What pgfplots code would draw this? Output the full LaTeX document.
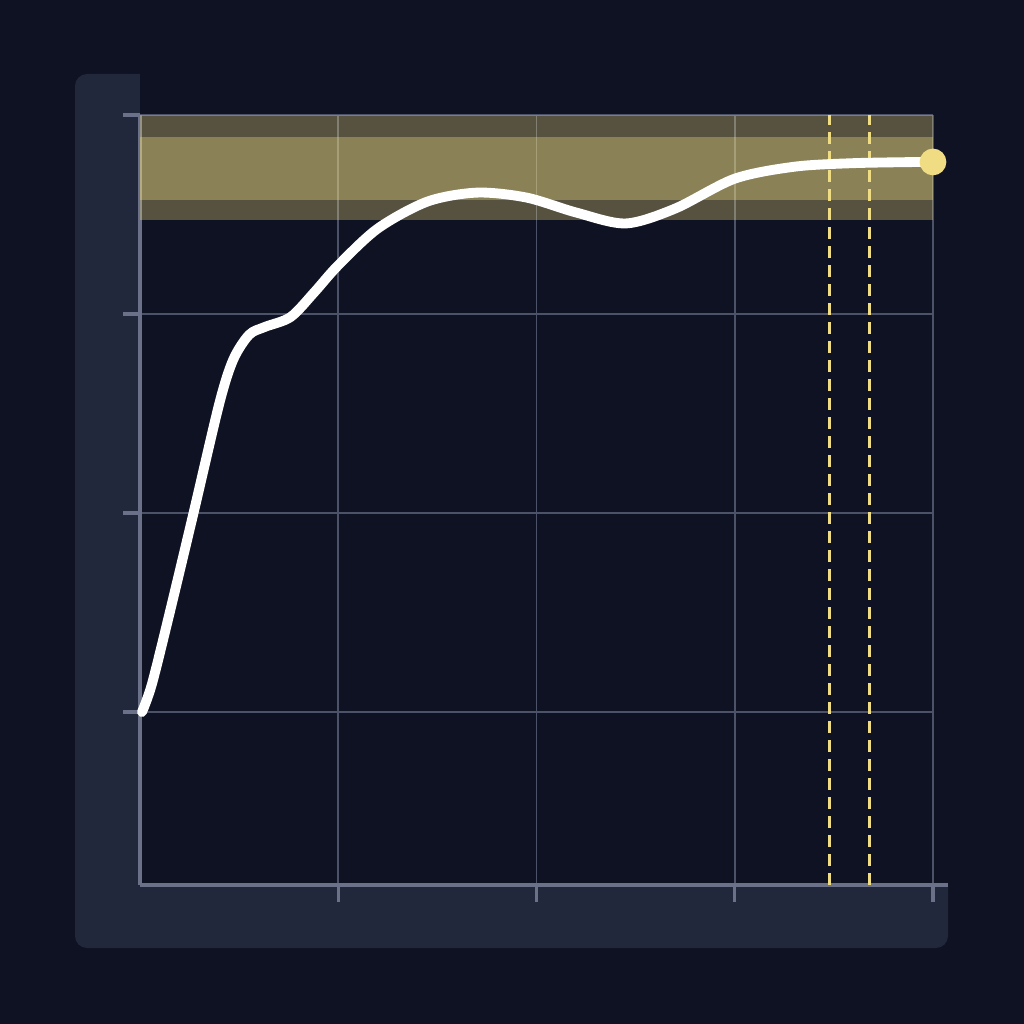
\documentclass[border=0pt]{standalone}
\usepackage{pgfplots}
\pgfplotsset{compat=1.18}
\definecolor{bg}{HTML}{0F1222}
\definecolor{panel}{HTML}{21283C}
\definecolor{gridc}{HTML}{4C5369}
\definecolor{axisc}{HTML}{6A7189}
\definecolor{gold}{HTML}{F0DC82}
\begin{document}
\begin{tikzpicture}[x=1cm,y=1cm]
\fill[bg] (0,0) rectangle (10.24,10.24);
\fill[panel, rounded corners=0.12cm] (0.75,0.76) rectangle (9.48,9.50);
\fill[bg] (1.40,1.39) rectangle (9.8,9.8);
\begin{axis}[
  at={(1.40cm,1.39cm)}, anchor=south west,
  scale only axis, width=7.93cm, height=7.70cm,
  xmin=0, xmax=4, ymin=-0.869, ymax=3,
  axis x line=bottom, axis y line=left,
  axis line style={-, axisc, line width=0.9pt},
  xtick={1,2,3,4}, ytick={0,1,2,3},
  xticklabels={}, yticklabels={},
  tick align=outside, major tick length=0.17cm,
  tick style={axisc, line width=0.9pt},
  grid=major, grid style={gridc, line width=0.45pt},
  clip=false]
\addplot[draw=none, fill=gold, fill opacity=0.32] coordinates {(0,2.472) (4,2.472) (4,3) (0,3)} -- cycle;
\addplot[draw=none, fill=gold, fill opacity=0.34] coordinates {(0,2.573) (4,2.573) (4,2.889) (0,2.889)} -- cycle;
\addplot[gold, line width=0.85pt, dash pattern=on 0.12cm off 0.07cm] coordinates {(3.48,-0.869) (3.48,3)};
\addplot[gold, line width=0.85pt, dash pattern=on 0.12cm off 0.07cm] coordinates {(3.68,-0.869) (3.68,3)};
\addplot[white, line width=2.8pt, smooth, tension=0.5, line cap=round] coordinates {
(0.01,0.0) (0.06,0.14) (0.15,0.50) (0.27,1.0) (0.40,1.55) (0.47,1.77) (0.55,1.895) (0.63,1.935) (0.76,1.985) (0.88,2.11) (1.0,2.245) (1.2,2.43) (1.45,2.565) (1.7,2.61) (1.95,2.585) (2.2,2.51) (2.45,2.455) (2.7,2.53) (3.0,2.68) (3.3,2.74) (3.6,2.758) (3.95,2.764)};
\addplot[only marks, mark=*, mark size=3.6pt, gold] coordinates {(4,2.764)};
\draw[axisc, line width=0.9pt] (axis cs:4,-0.869) -- (axis cs:4.076,-0.869);
\end{axis}
\pgfresetboundingbox
\useasboundingbox (0,0) rectangle (10.24,10.24);
\end{tikzpicture}
\end{document}
